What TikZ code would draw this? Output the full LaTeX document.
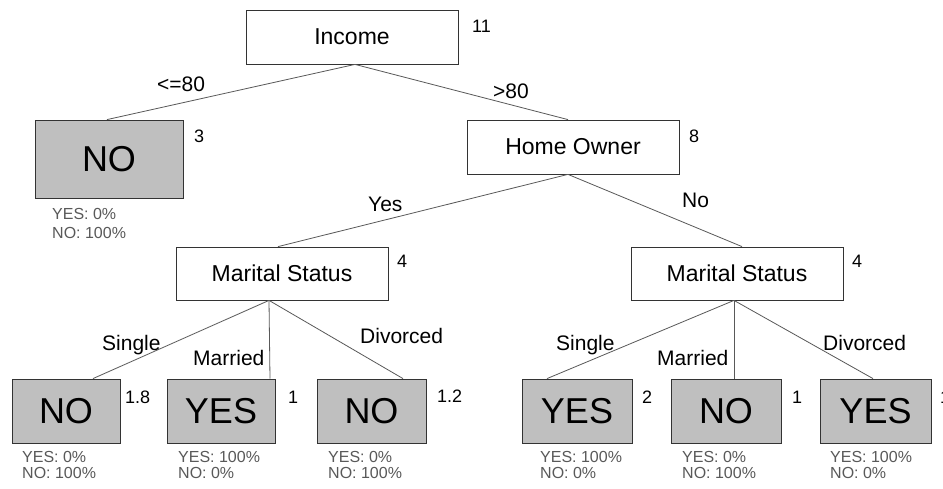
\documentclass[tikz,border=0pt]{standalone}
\usepackage{fontspec}
\setmainfont{Liberation Sans}
\begin{document}
\begin{tikzpicture}[x=1pt,y=-1pt,
  inner/.style={draw=black!80,line width=0.8pt,fill=white,minimum width=212pt,minimum height=54pt,inner sep=0pt,font=\fontsize{23}{26}\selectfont},
  leaf/.style={draw=black!80,line width=0.8pt,fill=black!25,minimum height=64pt,inner sep=0pt,font=\fontsize{36}{40}\selectfont},
  edge/.style={draw=black!65,line width=0.8pt},
  elab/.style={anchor=base west,inner sep=0pt,font=\fontsize{21}{24}\selectfont},
  num/.style={anchor=base west,inner sep=0pt,font=\fontsize{18}{20}\selectfont},
  pct/.style={anchor=base west,inner sep=0pt,text=black!65,font=\fontsize{16}{16}\selectfont}]
\useasboundingbox[fill=white] (0,0) rectangle (943,489);
% nodes
\node[inner] (income) at (352,37) {Income};
\node[leaf,minimum width=148pt,minimum height=78pt] (no0) at (109,159) {NO};
\node[inner] (home) at (573,147) {Home Owner};
\node[inner,minimum height=53pt] (msL) at (282,273.5) {Marital Status};
\node[inner,minimum height=53pt] (msR) at (737,273.5) {Marital Status};
\node[leaf,minimum width=108pt] (L1) at (66,411) {NO};
\node[leaf,minimum width=108pt] (L2) at (221,411) {YES};
\node[leaf,minimum width=109pt] (L3) at (371.5,411) {NO};
\node[leaf,minimum width=110pt] (R1) at (577,411) {YES};
\node[leaf,minimum width=110pt] (R2) at (726,411) {NO};
\node[leaf,minimum width=111pt] (R3) at (875.5,411) {YES};
% edges
\draw[edge] ([xshift=3pt]income.south) -- ([xshift=-2pt]no0.north);
\draw[edge] ([xshift=3pt]income.south) -- ([xshift=-5pt]home.north);
\draw[edge] ([xshift=-5pt]home.south) -- ([xshift=-4pt]msL.north);
\draw[edge] ([xshift=-5pt]home.south) -- ([xshift=5pt]msR.north);
\draw[edge] ([xshift=-13pt]msL.south) -- ([xshift=27pt]L1.north);
\draw[edge] ([xshift=-13pt]msL.south) -- ([xshift=49pt]L2.north);
\draw[edge] ([xshift=-13pt]msL.south) -- ([xshift=31.5pt]L3.north);
\draw[edge] ([xshift=-3pt]msR.south) -- ([xshift=-30pt]R1.north);
\draw[edge] ([xshift=-3pt]msR.south) -- ([xshift=8pt]R2.north);
\draw[edge] ([xshift=-3pt]msR.south) -- ([xshift=-2.5pt]R3.north);
% edge labels
\node[elab] (e1) at (157,92) {<=80};
\node[elab] (e2) at (493,99) {>80};
\node[elab] (e3) at (368,212) {Yes};
\node[elab] (e4) at (682,208) {No};
\node[elab] (e5) at (102,350) {Single};
\node[elab] (e6) at (193,365) {Married};
\node[elab] (e7) at (360,343) {Divorced};
\node[elab] (e8) at (556,350) {Single};
\node[elab] (e9) at (657,365) {Married};
\node[elab] (e10) at (823,350) {Divorced};
% counts
\node[num] (n1) at (472,33) {11};
\node[num] (n2) at (194,143) {3};
\node[num] (n3) at (689,143) {8};
\node[num] (n4) at (397,268) {4};
\node[num] (n5) at (852,268) {4};
\node[num] (n6) at (125,403) {1.8};
\node[num] (n7) at (288,403) {1};
\node[num] (n8) at (437,402) {1.2};
\node[num] (n9) at (642,403) {2};
\node[num] (n10) at (792,403) {1};
\node[num] (n11) at (940,403) {1};
% percentages
\node[pct] (p0a) at (52,220) {YES: 0\%};
\node[pct] (p0b) at (52,239) {NO: 100\%};
\node[pct] (p1a) at (22,462) {YES: 0\%};
\node[pct] (p1b) at (22,478) {NO: 100\%};
\node[pct] (p2a) at (178,462) {YES: 100\%};
\node[pct] (p2b) at (178,478) {NO: 0\%};
\node[pct] (p3a) at (328,462) {YES: 0\%};
\node[pct] (p3b) at (328,478) {NO: 100\%};
\node[pct] (p4a) at (540,462) {YES: 100\%};
\node[pct] (p4b) at (540,478) {NO: 0\%};
\node[pct] (p5a) at (682,462) {YES: 0\%};
\node[pct] (p5b) at (682,478) {NO: 100\%};
\node[pct] (p6a) at (830,462) {YES: 100\%};
\node[pct] (p6b) at (830,478) {NO: 0\%};
\end{tikzpicture}
\end{document}
